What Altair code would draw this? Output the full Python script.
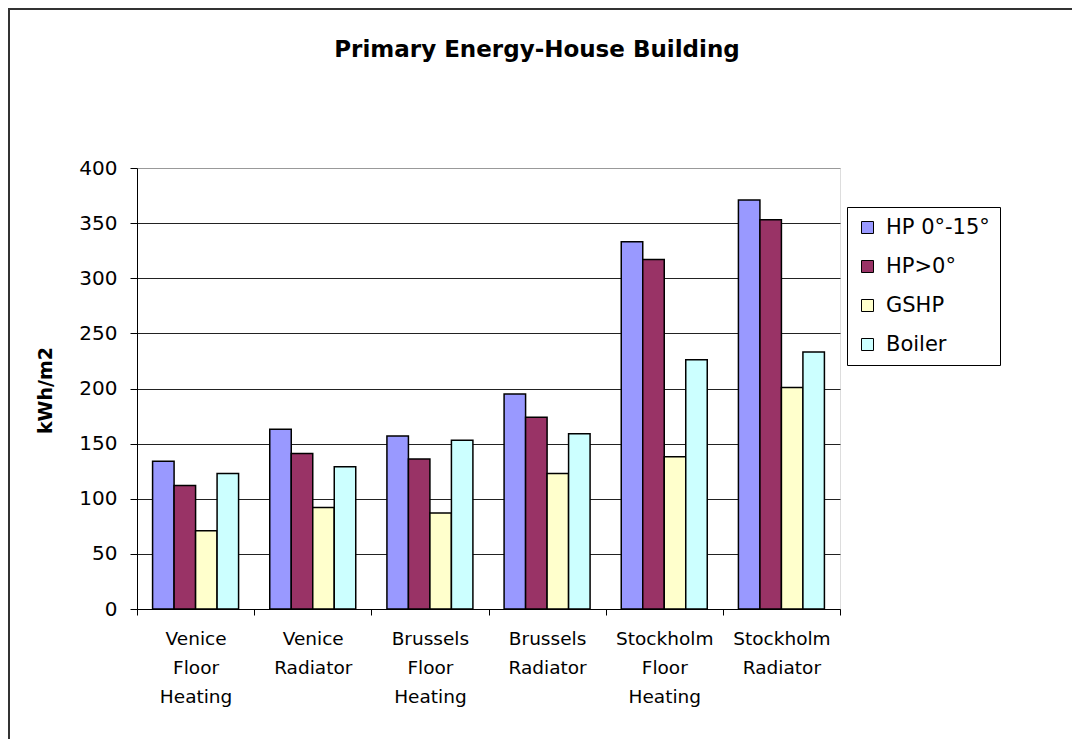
import altair as alt
import pandas as pd

categories = ["Venice Floor Heating", "Venice Radiator", "Brussels Floor Heating",
              "Brussels Radiator", "Stockholm Floor Heating", "Stockholm Radiator"]
series = ["HP 0°-15°", "HP>0°", "GSHP", "Boiler"]
hp_0_15 = [134, 163, 157, 195, 333, 371]
hp_gt0 = [112, 141, 136, 174, 317, 353]
gshp = [71, 92, 87, 123, 138, 201]
boiler = [123, 129, 153, 159, 226, 233]
colors = ["#9999FF", "#993366", "#FFFFCC", "#CCFFFF"]
y_ticks = [0, 50, 100, 150, 200, 250, 300, 350, 400]
title_text = "Primary Energy-House Building"

rows = []
for s, vals in zip(series, [hp_0_15, hp_gt0, gshp, boiler]):
    for c, v in zip(categories, vals):
        rows.append({"cat": c, "series": s, "value": v})
df = pd.DataFrame(rows)

FONT = "DejaVu Sans"
W, H = 703, 441

bars = alt.Chart(df).mark_bar(stroke="black", strokeWidth=1.5).encode(
    x=alt.X("cat:N", sort=categories, title=None,
            scale=alt.Scale(paddingInner=0, paddingOuter=0),
            axis=alt.Axis(labelExpr="split(datum.label, ' ')", labelAngle=0,
                          labelFontSize=18.5, labelLineHeight=29, labelBaseline="top",
                          labelPadding=14, tickBand="extent", tickSize=6,
                          tickColor="black", domainColor="black", labelColor="black",
                          labelFont=FONT, grid=False)),
    xOffset=alt.XOffset("series:N", sort=series,
                        scale=alt.Scale(paddingInner=0, paddingOuter=0.725)),
    y=alt.Y("value:Q", title="kWh/m2",
            scale=alt.Scale(domain=[0, 400], nice=False),
            axis=alt.Axis(values=y_ticks, labelFontSize=20, labelFont=FONT,
                          labelColor="black", tickSize=7, labelPadding=13,
                          tickColor="black", domainColor="black",
                          gridColor={"condition": {"test": "datum.value == 400", "value": "#999999"},
                                     "value": "#222222"},
                          gridWidth=1,
                          titleFont=FONT, titleFontSize=19, titleFontWeight="bold",
                          titleColor="black", titleX=-92, titleY=222, titleAngle=270,
                          titleAlign="center", titleBaseline="middle")),
    color=alt.Color("series:N", sort=series,
                    scale=alt.Scale(domain=series, range=colors),
                    legend=alt.Legend(orient="none", legendX=710, legendY=39, title=None,
                                      strokeColor="black", fillColor="white", padding=10,
                                      rowPadding=17, symbolType="square", symbolSize=144,
                                      symbolStrokeColor="black", symbolStrokeWidth=1,
                                      labelFontSize=21, labelFont=FONT, labelOffset=8,
                                      labelColor="black")),
)

frame = alt.Chart(alt.Data(values=[{"a": 1}])).mark_rect(
    filled=False, stroke="#333333", strokeWidth=2
).encode(
    x=alt.value(-128), x2=alt.value(1200), y=alt.value(-159), y2=alt.value(1000)
)

title = alt.Chart(alt.Data(values=[{"t": title_text}])).mark_text(
    font=FONT, fontSize=23, fontWeight="bold", color="black",
    align="center", baseline="alphabetic"
).encode(text="t:N", x=alt.value(400), y=alt.value(-111))

chart = alt.layer(frame, bars, title).properties(
    width=W, height=H,
    autosize=alt.AutoSizeParams(type="none"),
    padding={"left": 129, "top": 160, "right": 232, "bottom": 130},
).configure_view(stroke="#999999", strokeWidth=1.5).configure(font=FONT)

chart.save("out.html", embed_options={"renderer": "svg", "actions": False})
